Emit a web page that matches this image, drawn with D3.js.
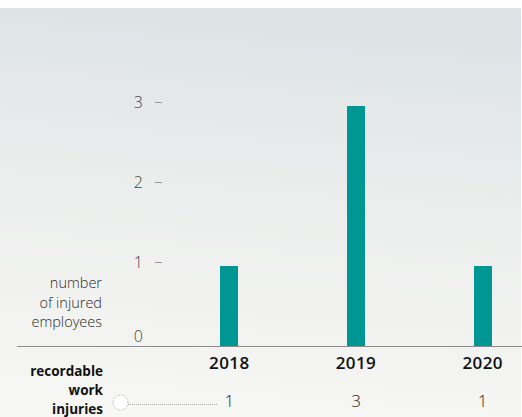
<!DOCTYPE html>
<html>
<head>
<meta charset="utf-8">
<script src="https://cdn.jsdelivr.net/npm/d3@7"></script>
<style>
  html, body { margin: 0; padding: 0; background: #fff; }
  svg { display: block; }
  text { font-family: "Open Sans", "Noto Sans", sans-serif; }
</style>
</head>
<body>
<svg id="chart" width="522" height="417"></svg>
<script>
// Injured employees per year
const years = ["2018", "2019", "2020"];
const injuries = [1, 3, 1];
const yTicks = [0, 1, 2, 3];
const axisLabel = ["number", "of injured", "employees"];
const rowLabel = ["recordable", "work", "injuries"];

const W = 522, H = 417;
const svg = d3.select("#chart");

// panel background with soft vertical gradient
const defs = svg.append("defs");
const grad = defs.append("linearGradient")
  .attr("id", "bg").attr("x1", "0.3").attr("y1", "0").attr("x2", "0.2").attr("y2", "1");
grad.append("stop").attr("offset", "0").attr("stop-color", "#dde3e5");
grad.append("stop").attr("offset", "0.45").attr("stop-color", "#eceeed");
grad.append("stop").attr("offset", "1").attr("stop-color", "#f7f7f4");
svg.append("rect").attr("x", 0).attr("y", 8).attr("width", 521).attr("height", H - 8)
  .attr("fill", "url(#bg)");

// scales
const x = d3.scaleBand().domain(years).range([166, 546]).paddingInner(0).paddingOuter(0);
const y = d3.scaleLinear().domain([0, 3]).range([346, 106]);
const barW = 18;

// y tick labels with small dashes
const tickG = svg.append("g");
yTicks.forEach(v => {
  const g = tickG.append("g").attr("transform", `translate(0,${v === 0 ? y(v) - 10 : y(v) - 4})`);
  g.append("text").attr("x", 143).attr("y", 0).attr("dy", "0.35em")
    .attr("text-anchor", "end").attr("font-size", 16).attr("font-weight", 300)
    .attr("fill", "#444").text(v);
  if (v !== 0) {
    g.append("line").attr("x1", 155).attr("x2", 162).attr("y1", 0.5).attr("y2", 0.5)
      .attr("stroke", "#999").attr("stroke-width", 1);
  }
});

// axis title
svg.append("text").attr("text-anchor", "end").attr("font-size", 14.5).attr("font-weight", 300)
  .attr("fill", "#2a2a2a")
  .selectAll("tspan").data(axisLabel).join("tspan")
  .attr("x", 102).attr("y", (d, i) => 288 + i * 19.5).text(d => d);

// bars
svg.append("g").selectAll("rect").data(years).join("rect")
  .attr("x", d => Math.round(x(d) + x.bandwidth() / 2 - barW / 2))
  .attr("width", barW)
  .attr("y", (d, i) => y(injuries[i]))
  .attr("height", (d, i) => y(0) - y(injuries[i]))
  .attr("fill", "#009694");

// baseline
svg.append("line").attr("x1", 17).attr("x2", W).attr("y1", 346.5).attr("y2", 346.5)
  .attr("stroke", "#8c8c8c").attr("stroke-width", 1.2);

// year labels
svg.append("g").selectAll("text").data(years).join("text")
  .attr("x", d => x(d) + x.bandwidth() / 2)
  .attr("y", 369)
  .attr("text-anchor", "middle").attr("font-size", 17).attr("font-weight", 600)
  .attr("letter-spacing", 0.4)
  .attr("fill", "#111").text(d => d);

// row label
svg.append("text").attr("text-anchor", "end").attr("font-size", 13.5).attr("font-weight", 700)
  .attr("fill", "#111")
  .selectAll("tspan").data(rowLabel).join("tspan")
  .attr("x", 103).attr("y", (d, i) => 376 + i * 19).text(d => d);

// dotted leader with circle marker
svg.append("line").attr("x1", 128).attr("x2", 218).attr("y1", 404.5).attr("y2", 404.5)
  .attr("stroke", "#aaa").attr("stroke-width", 1).attr("stroke-dasharray", "1,1");
svg.append("circle").attr("cx", 120.5).attr("cy", 402.5).attr("r", 7.5)
  .attr("fill", "#fff").attr("stroke", "#b5b5b5").attr("stroke-width", 1)
  .attr("stroke-dasharray", "1.5,1.5");

// value row
svg.append("g").selectAll("text").data(years).join("text")
  .attr("x", d => x(d) + x.bandwidth() / 2)
  .attr("y", 407)
  .attr("text-anchor", "middle").attr("font-size", 17).attr("font-weight", 300)
  .attr("fill", "#222").text((d, i) => injuries[i]);
</script>
</body>
</html>
